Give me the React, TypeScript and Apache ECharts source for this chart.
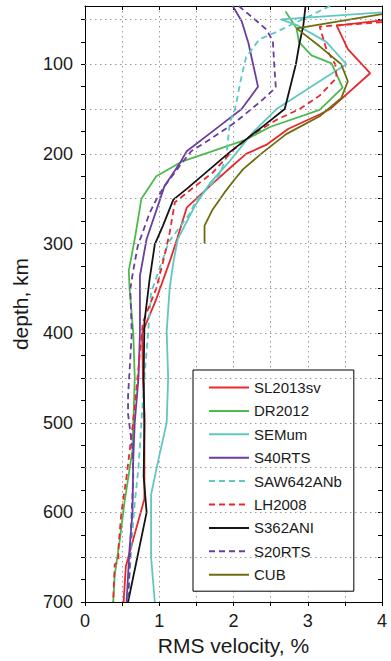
import React, { useEffect, useRef } from "react";
import * as echarts from "echarts";

const FONT = '"Liberation Sans", Arial, Helvetica, sans-serif';

// ---- Data (depth in km, RMS velocity in %) ----
const slDepth = [51, 57, 83, 110, 150, 156, 172, 190, 200, 213, 236, 260, 295, 318, 362, 400, 450, 490, 585, 660, 700];
const slRms = [4.0, 3.39, 3.54, 3.84, 3.30, 3.16, 2.74, 2.44, 2.17, 1.99, 1.68, 1.37, 1.24, 1.15, 0.96, 0.77, 0.78, 0.80, 0.80, 0.55, 0.52];

const drDepth = [41, 60, 75, 90, 99, 126, 151, 170, 184, 198, 208, 225, 250, 295, 330, 350, 400, 450, 530, 590, 630, 670, 700];
const drRms = [2.70, 2.85, 2.88, 3.05, 3.32, 3.47, 3.16, 2.49, 2.17, 1.68, 1.32, 0.96, 0.76, 0.67, 0.59, 0.60, 0.65, 0.67, 0.64, 0.53, 0.47, 0.40, 0.38];

const semDepth = [42, 50, 57, 75, 100, 119, 150, 176, 208, 233, 258, 295, 321, 350, 398, 450, 500, 537, 580, 650, 700];
const semRms = [4.0, 2.64, 2.87, 3.25, 3.52, 3.16, 2.58, 2.26, 1.95, 1.68, 1.48, 1.25, 1.19, 1.14, 1.10, 1.12, 1.10, 1.0, 0.89, 0.89, 0.94];

const s40Depth = [35, 52, 76, 125, 150, 169, 197, 210, 236, 251, 295, 336, 400, 450, 500, 540, 600, 640, 700];
const s40Rms = [1.99, 2.11, 2.20, 2.33, 2.11, 1.81, 1.37, 1.28, 1.07, 1.01, 0.83, 0.74, 0.74, 0.72, 0.67, 0.65, 0.64, 0.60, 0.56];

const sawDepth = [35, 46, 55, 65, 72, 92, 113, 150, 165, 205, 225, 252, 268, 298, 355, 400, 450, 500, 550, 590, 630, 700];
const sawRms = [3.30, 3.03, 2.80, 2.55, 2.35, 2.17, 2.11, 2.02, 1.95, 1.90, 1.80, 1.50, 1.40, 1.13, 0.89, 0.85, 0.80, 0.76, 0.72, 0.67, 0.63, 0.58];

const lhDepth = [53, 58, 83, 100, 115, 135, 150, 162, 178, 196, 221, 235, 254, 288, 321, 350, 388, 421, 465, 505, 560, 600, 640, 655, 658, 700];
const lhRms = [4.0, 3.16, 3.25, 3.37, 3.39, 3.16, 2.89, 2.58, 2.26, 1.99, 1.72, 1.50, 1.21, 1.14, 1.05, 0.96, 0.78, 0.74, 0.69, 0.64, 0.56, 0.49, 0.45, 0.45, 0.40, 0.38];

const s362Depth = [35, 57, 76, 100, 120, 150, 169, 198, 239, 251, 280, 301, 340, 388, 450, 500, 560, 600, 700];
const s362Rms = [2.97, 2.94, 2.89, 2.84, 2.78, 2.69, 2.40, 1.95, 1.37, 1.19, 1.05, 0.94, 0.87, 0.80, 0.79, 0.80, 0.79, 0.83, 0.58];

const s20Depth = [35, 48, 61, 74, 102, 126, 139, 165, 184, 197, 213, 236, 251, 266, 303, 330, 351, 400, 470, 490, 530, 560, 620, 700];
const s20Rms = [2.07, 2.26, 2.44, 2.53, 2.55, 2.57, 2.40, 2.02, 1.68, 1.43, 1.28, 1.07, 0.96, 0.87, 0.71, 0.65, 0.61, 0.63, 0.58, 0.58, 0.64, 0.65, 0.62, 0.58];

const cubDepth = [44, 60, 80, 100, 119, 138, 158, 178, 198, 217, 228, 243, 262, 280, 300];
const cubRms = [4.0, 2.85, 3.16, 3.45, 3.54, 3.45, 3.16, 2.71, 2.40, 2.13, 2.02, 1.88, 1.72, 1.61, 1.61];

const modelNames = ["SL2013sv", "DR2012", "SEMum", "S40RTS", "SAW642ANb", "LH2008", "S362ANI", "S20RTS", "CUB"];
const modelColors = ["#e8282d", "#4cba4c", "#5ec8c1", "#6a3e9e", "#5ec8c1", "#e8282d", "#141414", "#6a3e9e", "#6d6d10"];
const modelDashed = [false, false, false, false, true, true, false, true, false];
const modelDepths = [slDepth, drDepth, semDepth, s40Depth, sawDepth, lhDepth, s362Depth, s20Depth, cubDepth];
const modelRms = [slRms, drRms, semRms, s40Rms, sawRms, lhRms, s362Rms, s20Rms, cubRms];

// ---- Axis ticks ----
const depthMin = 35;
const depthMax = 700;
const depthLabels = [100, 200, 300, 400, 500, 600, 700];
const depthTicks = [50, 75, 100, 125, 150, 175, 200, 225, 250, 275, 300, 325, 350, 375, 400, 425, 450, 475, 500, 525, 550, 575, 600, 625, 650, 675, 700];
const depthGrid = [50, 100, 150, 200, 250, 300, 350, 400, 450, 500, 550, 600, 650];
const rmsLabels = [0, 1, 2, 3, 4];
const rmsTicks = [0, 0.5, 1, 1.5, 2, 2.5, 3, 3.5, 4];

const gridStyle = { type: [1.5, 3.5] as any, color: "#9a9a9a", width: 1 };
const axisLineStyle = { color: "#000", width: 1 };

export default function App() {
  const ref = useRef<HTMLDivElement>(null);
  useEffect(() => {
    const chart = echarts.init(ref.current!, null, { renderer: "svg" });
    const series: any[] = [
      {
        type: "line",
        name: "__grid",
        data: [[0, depthMin]],
        symbol: "none",
        lineStyle: { opacity: 0 },
        silent: true,
        z: 1,
        markLine: {
          silent: true,
          symbol: ["none", "none"],
          label: { show: false },
          lineStyle: gridStyle,
          emphasis: { disabled: true },
          data: depthGrid.map((d) => ({ yAxis: d })),
        },
      },
    ];
    modelNames.forEach((name, i) => {
      series.push({
        type: "line",
        name,
        data: modelDepths[i].map((d, j) => [modelRms[i][j], d]),
        symbol: "none",
        showSymbol: false,
        z: 3,
        lineStyle: {
          color: modelColors[i],
          width: 1.8,
          type: modelDashed[i] ? [6, 4] : "solid",
        },
        itemStyle: { color: modelColors[i] },
      });
    });

    chart.setOption({
      animation: false,
      backgroundColor: "#fff",
      textStyle: { fontFamily: FONT },
      grid: { left: 85, right: 9, top: 6, bottom: 58, containLabel: false },
      xAxis: [
        {
          type: "value",
          min: 0,
          max: 4,
          interval: 1,
          position: "bottom",
          name: "RMS velocity, %",
          nameLocation: "middle",
          nameGap: 33,
          nameTextStyle: { fontSize: 21, color: "#1a1a1a", fontFamily: FONT },
          axisLine: { show: true, onZero: false, lineStyle: axisLineStyle },
          axisTick: { show: true, inside: false, length: 4, customValues: rmsTicks, lineStyle: axisLineStyle },
          axisLabel: { show: true, customValues: rmsLabels, fontSize: 18, color: "#1a1a1a", margin: 10, fontFamily: FONT },
          splitLine: { show: true, lineStyle: gridStyle },
        },
        {
          type: "value",
          min: 0,
          max: 4,
          interval: 1,
          position: "top",
          axisLine: { show: true, onZero: false, lineStyle: axisLineStyle },
          axisTick: { show: true, inside: true, length: 4, customValues: rmsTicks, lineStyle: axisLineStyle },
          axisLabel: { show: false },
          splitLine: { show: false },
        },
      ],
      yAxis: [
        {
          type: "value",
          min: depthMin,
          max: depthMax,
          inverse: true,
          position: "left",
          name: "depth, km",
          nameLocation: "middle",
          nameGap: 54,
          nameTextStyle: { fontSize: 21, color: "#1a1a1a", fontFamily: FONT },
          axisLine: { show: true, onZero: false, lineStyle: axisLineStyle },
          axisTick: { show: true, inside: false, length: 4, customValues: depthTicks, lineStyle: axisLineStyle },
          axisLabel: { show: true, customValues: depthLabels, fontSize: 18, color: "#1a1a1a", margin: 12, fontFamily: FONT },
          splitLine: { show: false },
        },
        {
          type: "value",
          min: depthMin,
          max: depthMax,
          inverse: true,
          position: "right",
          axisLine: { show: true, onZero: false, lineStyle: axisLineStyle },
          axisTick: { show: true, inside: true, length: 4, customValues: depthTicks, lineStyle: axisLineStyle },
          axisLabel: { show: false },
          splitLine: { show: false },
        },
      ],
      legend: {
        data: modelNames,
        orient: "vertical",
        left: 193,
        top: 370,
        padding: [10, 12, 9, 15],
        itemWidth: 40,
        itemHeight: 14,
        itemGap: 8.4,
        backgroundColor: "#fff",
        borderColor: "#000",
        borderWidth: 1,
        borderRadius: 0,
        selectedMode: false,
        itemStyle: { opacity: 0 },
        lineStyle: { width: 2 },
        textStyle: { fontSize: 15, color: "#1a1a1a", fontFamily: FONT, lineHeight: 14 },
      },
      series,
    });
    return () => chart.dispose();
  }, []);
  return <div ref={ref} style={{ position: "absolute", left: 0, top: 0, width: 391, height: 661 }} />;
}
